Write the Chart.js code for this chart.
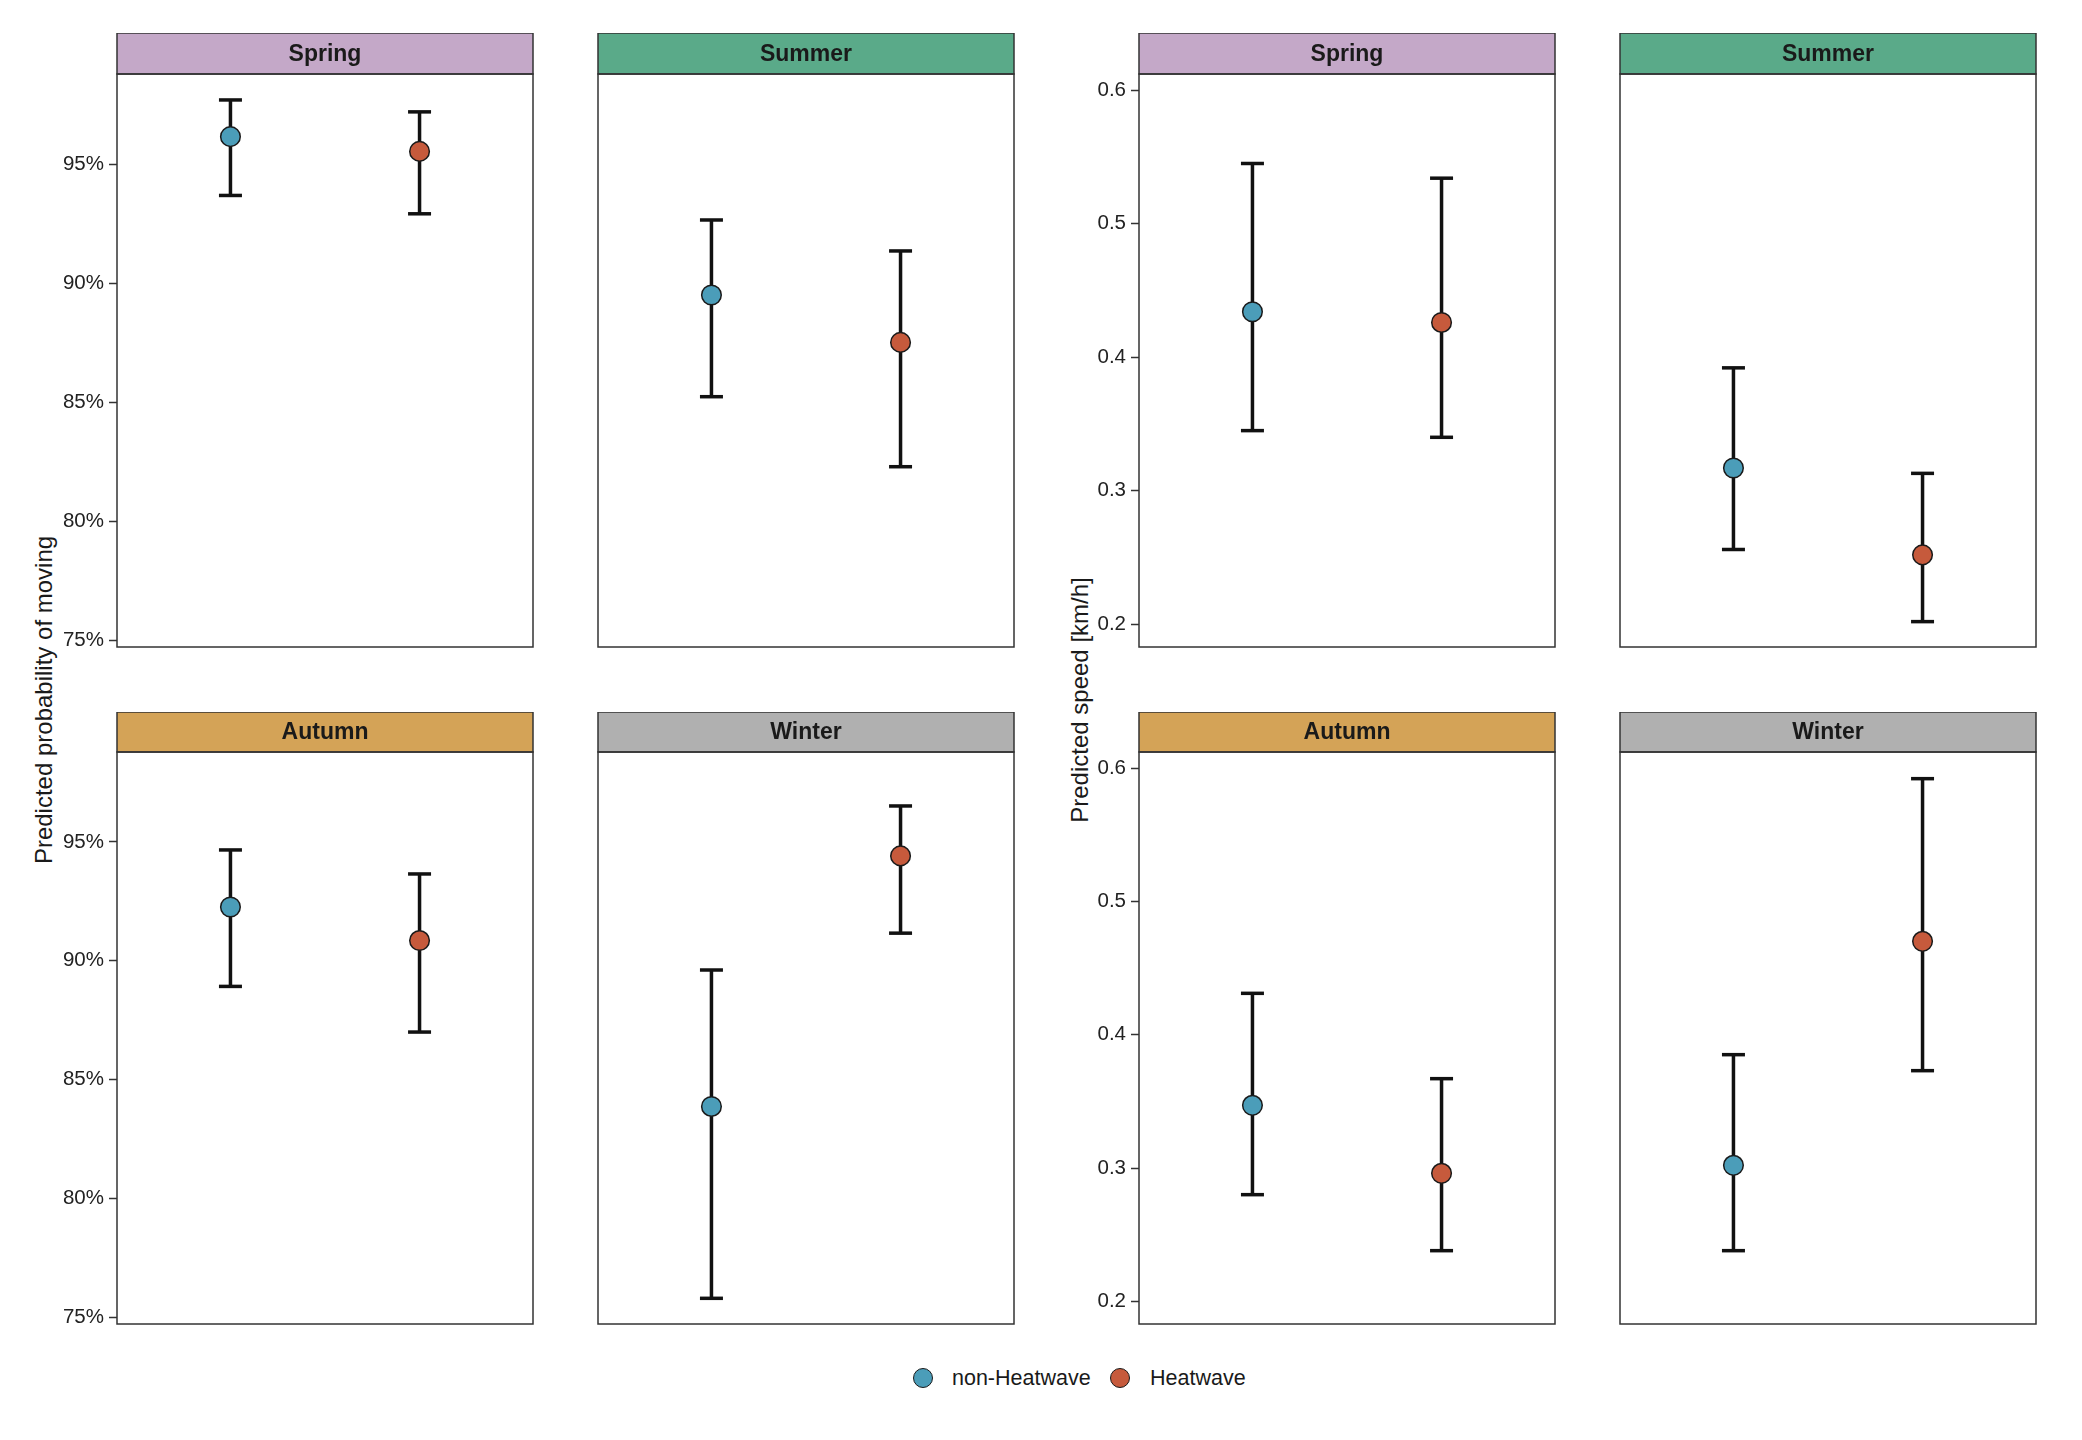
<!DOCTYPE html>
<html>
<head>
<meta charset="utf-8">
<title>Predicted movement by season</title>
<script src="https://cdn.jsdelivr.net/npm/chart.js@4.4.1/dist/chart.umd.min.js"></script>
<style>
  body { margin:0; background:#fff; width:2082px; height:1440px; position:relative; overflow:hidden;
         font-family:"Liberation Sans", Arial, sans-serif; color:#1a1a1a; }
  .panel { position:absolute; }
  .ytitle { position:absolute; white-space:nowrap; font-size:24px; transform:translate(-50%,-50%) rotate(-90deg); }
  .lg-dot { position:absolute; width:18px; height:18px; border:1.5px solid #1a1a1a; border-radius:50%; transform:translate(-50%,-50%); }
  .lg-txt { position:absolute; font-size:21.5px; transform:translateY(-50%); white-space:nowrap; }
</style>
</head>
<body>

<div class="ytitle" style="left:44px;top:700px">Predicted probability of moving</div>
<div class="ytitle" style="left:1080px;top:700px">Predicted speed [km/h]</div>
<div id="legend"></div>

<script>
/* ── Data ─────────────────────────────────────────────── */
const seasons     = ['Spring', 'Summer', 'Autumn', 'Winter'];
const groups      = ['non-Heatwave', 'Heatwave'];
const stripColors = ['#C4A8C8', '#5AAA89', '#D4A357', '#B0B0B0'];
const groupColors = ['#4B9DB9', '#C65A3C'];

// probability of moving (%) per season: [non-Heatwave, Heatwave]
const probMean = [[96.15, 95.53], [89.50, 87.51], [92.26, 90.85], [83.87, 94.41]];
const probLow  = [[93.68, 92.91], [85.23, 82.29], [88.92, 87.00], [75.80, 91.16]];
const probHigh = [[97.69, 97.19], [92.65, 91.35], [94.66, 93.65], [89.61, 96.51]];
const probTicks = [75, 80, 85, 90, 95];

// speed (km/h) per season: [non-Heatwave, Heatwave]
const speedMean = [[0.434, 0.426], [0.317, 0.252], [0.347, 0.296], [0.302, 0.470]];
const speedLow  = [[0.345, 0.340], [0.256, 0.202], [0.280, 0.238], [0.238, 0.373]];
const speedHigh = [[0.545, 0.534], [0.392, 0.313], [0.431, 0.367], [0.385, 0.592]];
const speedTicks = [0.2, 0.3, 0.4, 0.5, 0.6];

/* ── Layout (px) ──────────────────────────────────────── */
const AXW = 80, PAD = 2, PW = 416;
const colLeft  = [[117, 598], [1139, 1620]];   // per block: left col, right col
const rowTop   = [33, 712];
const rowStrip = [41, 40];
const rowBot   = [647, 1324];

const blocks = [
  { mean: probMean,  low: probLow,  high: probHigh,  ticks: probTicks,  min: 74.72, max: 98.78, fmt: v => v + '%' },
  { mean: speedMean, low: speedLow, high: speedHigh, ticks: speedTicks, min: 0.183, max: 0.612, fmt: v => v.toFixed(1) },
];

const tickFont = { family: '"Liberation Sans", Arial, sans-serif', size: 20.5 };

/* strip + panel border, ggplot facet style */
const facet = {
  id: 'facet',
  afterDraw(chart, args, o) {
    const { ctx, chartArea: a } = chart;
    const w = a.right - a.left;
    ctx.save();
    ctx.fillStyle = o.color;
    ctx.fillRect(a.left, a.top - o.h, w, o.h);
    ctx.strokeStyle = '#333';
    ctx.lineWidth = 1.5;
    ctx.strokeRect(a.left, a.top - o.h, w, o.h);
    ctx.strokeRect(a.left, a.top, w, a.bottom - a.top);
    ctx.fillStyle = '#1a1a1a';
    ctx.font = 'bold 23px "Liberation Sans", Arial, sans-serif';
    ctx.textAlign = 'center';
    ctx.textBaseline = 'middle';
    ctx.fillText(o.text, a.left + w / 2, a.top - o.h / 2 + 1);
    ctx.restore();
  },
};

function mk(b, s) {
  const blk = blocks[b];
  const row = Math.floor(s / 2), col = s % 2;
  const left = colLeft[b][col] - AXW, top = rowTop[row];
  const div = document.createElement('div');
  div.className = 'panel';
  Object.assign(div.style, {
    left: left + 'px', top: top + 'px',
    width: (PW + AXW + PAD) + 'px', height: (rowBot[row] - top + PAD) + 'px',
  });
  const cv = document.createElement('canvas');
  div.appendChild(cv);
  document.body.appendChild(div);

  const datasets = [];
  groups.forEach((g, k) => {
    datasets.push({
      label: g,
      data: [{ x: k + 1, y: blk.mean[s][k] }],
      backgroundColor: groupColors[k],
      borderColor: '#1a1a1a',
      borderWidth: 1.5,
      pointRadius: 9.8,
      order: 0,
    });
    datasets.push({
      label: g + ' CI',
      data: [{ x: k + 1, y: blk.low[s][k] }, { x: k + 1, y: blk.high[s][k] }],
      showLine: true,
      borderColor: '#111',
      borderWidth: 3.5,
      pointStyle: 'line',
      pointRadius: 11.5,
      pointBorderWidth: 3.5,
      pointBorderColor: '#111',
      order: 1,
    });
  });

  const showY = col === 0;
  new Chart(cv, {
    type: 'scatter',
    data: { datasets },
    options: {
      responsive: true,
      maintainAspectRatio: false,
      animation: false,
      layout: { autoPadding: false, padding: { top: rowStrip[row], right: PAD, bottom: PAD, left: 0 } },
      plugins: {
        legend: { display: false },
        tooltip: { enabled: false },
        facet: { color: stripColors[s], text: seasons[s], h: rowStrip[row] },
      },
      scales: {
        x: { type: 'linear', min: 0.4, max: 2.6, display: false },
        y: {
          type: 'linear',
          min: blk.min, max: blk.max,
          afterBuildTicks: sc => { sc.ticks = blk.ticks.map(v => ({ value: v })); },
          afterFit: sc => { sc.width = AXW; sc.paddingTop = 0; sc.paddingBottom = 0; },
          border: { display: false },
          grid: { display: showY, drawOnChartArea: false, drawTicks: true, tickLength: 8, tickWidth: 1.5, color: '#333' },
          ticks: { display: showY, padding: 5, color: '#222', font: tickFont, callback: v => blk.fmt(v) },
        },
      },
    },
    plugins: [facet],
  });
}

[0, 1].forEach(b => seasons.forEach((_, s) => mk(b, s)));

/* ── Legend ───────────────────────────────────────────── */
const lg = document.getElementById('legend');
const lgDotX = [923, 1120], lgTxtX = [952, 1150], lgY = 1378;
groups.forEach((g, k) => {
  const d = document.createElement('div');
  d.className = 'lg-dot';
  Object.assign(d.style, { left: lgDotX[k] + 'px', top: lgY + 'px', background: groupColors[k] });
  const t = document.createElement('div');
  t.className = 'lg-txt';
  Object.assign(t.style, { left: lgTxtX[k] + 'px', top: lgY + 'px' });
  t.textContent = g;
  lg.appendChild(d);
  lg.appendChild(t);
});
</script>
</body>
</html>
